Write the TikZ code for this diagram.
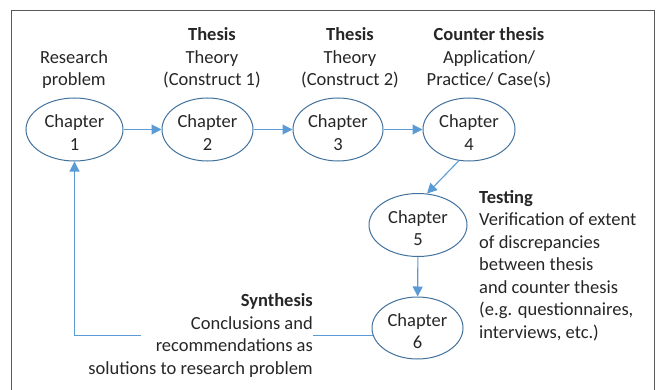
\documentclass[tikz,border=0pt]{standalone}
\usepackage{fontspec}
\setmainfont{Carlito}
\usetikzlibrary{arrows.meta,shapes.geometric}
\definecolor{ellblue}{HTML}{41719C}
\definecolor{arrblue}{HTML}{5B9BD5}
\definecolor{framegray}{HTML}{595959}
\definecolor{txtc}{HTML}{262626}
\newcommand\dfont{\fontsize{18.5}{22.5}\selectfont}
\newcommand\chtop{\rule{0pt}{19pt}}
\begin{document}
\begin{tikzpicture}[x=1pt,y=-1pt,
  chap/.style={ellipse, draw=ellblue, line width=1pt, minimum height=63pt,
    inner sep=0pt, align=center, font=\dfont, text=txtc},
  lbl/.style={inner sep=0pt, align=center, font=\dfont, text=txtc},
  conn/.style={draw=arrblue, line width=1.1pt, -{Triangle[length=10pt,width=10pt]}}]
\useasboundingbox (0,0) rectangle (660,390);
\draw[framegray, line width=1pt] (11,390) -- (11,11) -- (654,11) -- (654,390);

\node[chap, minimum width=97pt] (c1) at (74.5,129.5) {\chtop Chapter\\1};
\node[chap, minimum width=91pt] (c2) at (207.5,129.5) {\chtop Chapter\\2};
\node[chap, minimum width=90pt] (c3) at (338,129.5) {\chtop Chapter\\3};
\node[chap, minimum width=92pt] (c4) at (469,129.5) {\chtop Chapter\\4};
\node[chap, minimum width=98pt] (c5) at (418,225) {\chtop Chapter\\5};
\node[chap, minimum width=91pt, minimum height=62pt] (c6) at (417.5,328) {\chtop Chapter\\6};

\draw[conn] (c1) -- (c2);
\draw[conn] (c2) -- (c3);
\draw[conn] (c3) -- (c4);
\draw[conn] (c4.252) -- (c5.74);
\draw[conn] (c5) -- (c6);
\draw[conn] (c6.189) -- (c6.189 -| c1) -- (c1.south);

\fill[white] (141,326) rectangle (313,345);

\node[lbl, anchor=base] (l1) at (74,86) {Research\\problem};
\node[lbl, anchor=base] (l2) at (212,86) {\textbf{Thesis}\\Theory\\(Construct 1)};
\node[lbl, anchor=base] (l3) at (350,86) {\textbf{Thesis}\\Theory\\(Construct 2)};
\node[lbl, anchor=base] (l4) at (489,86) {\textbf{Counter thesis}\\Application/\\Practice/ Case(s)};
\node[lbl, align=left, anchor=base west] (l5) at (479,338) {\textbf{Testing}\\Verification of extent\\of discrepancies\\between thesis\\and counter thesis\\(e.g. questionnaires,\\interviews, etc.)};
\node[lbl, align=right, anchor=base east] (l6) at (313,374) {\textbf{Synthesis}\\Conclusions and\\recommendations as\\solutions to research problem};
\end{tikzpicture}
\end{document}
